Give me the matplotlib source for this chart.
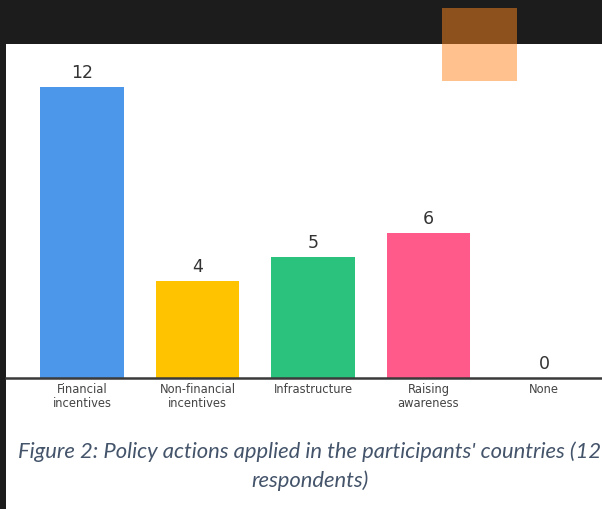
import matplotlib.pyplot as plt
from matplotlib.patches import Rectangle

categories = ['Financial\nincentives', 'Non-financial\nincentives', 'Infrastructure',
              'Raising\nawareness', 'None']
counts = [12, 4, 5, 6, 0]
bar_colors = ['#4C97EA', '#FFC300', '#2BC27D', '#FF5A8A', '#9E9E9E']
caption_lines = ["Figure 2: Policy actions applied in the participants' countries (12",
                 "respondents)"]

W, H = 602, 510
fig = plt.figure(figsize=(W / 100, H / 100), dpi=100)
fig.patch.set_facecolor('#1C1C1C')

# white page area
fig.patches.append(Rectangle((6 / W, 0), 1 - 6 / W, (H - 45) / H,
                             transform=fig.transFigure, facecolor='white',
                             edgecolor='none', zorder=-5))

# bar chart axes: x from 6 to 602 px, y from baseline 379 up to 45
ax = fig.add_axes([6 / W, (H - 379) / H, (W - 6) / W, (379 - 45) / H])
ax.set_facecolor('none')
ax.set_zorder(2)
px_per_unit = 24.25
ax.set_ylim(0, (379 - 45) / px_per_unit)
spacing = 115.5
ax.set_xlim(-(82 - 6) / spacing, (602 - 82) / spacing)

x = range(len(categories))
ax.bar(x, counts, width=0.727, color=bar_colors, zorder=2)
for i, v in enumerate(counts):
    ax.annotate(str(v), (i, v), xytext=(0, 4), textcoords='offset points',
                ha='center', va='bottom', fontsize=12.5, color='#333333')

for s in ['top', 'right', 'left']:
    ax.spines[s].set_visible(False)
ax.spines['bottom'].set_color('#3A3A3A')
ax.spines['bottom'].set_linewidth(1.8)
ax.set_yticks([])
ax.set_xticks(list(x))
ax.set_xticklabels(categories, fontsize=8.3, color='#444444', linespacing=1.05)
ax.tick_params(axis='x', length=0, pad=3)

# caption
for line, ypx in zip(caption_lines, [452, 481]):
    fig.text(310 / W, 1 - ypx / H, line, ha='center', va='center',
             fontsize=15.8, style='italic', color='#44546A', family='Lato')

# translucent orange marker at top right
fig.patches.append(Rectangle((442 / W, 1 - 82 / H), 75 / W, 73 / H,
                             transform=fig.transFigure, facecolor='#FF8621',
                             alpha=0.5, edgecolor='none', zorder=5))

fig.savefig('out.png', dpi=100, facecolor=fig.get_facecolor())
